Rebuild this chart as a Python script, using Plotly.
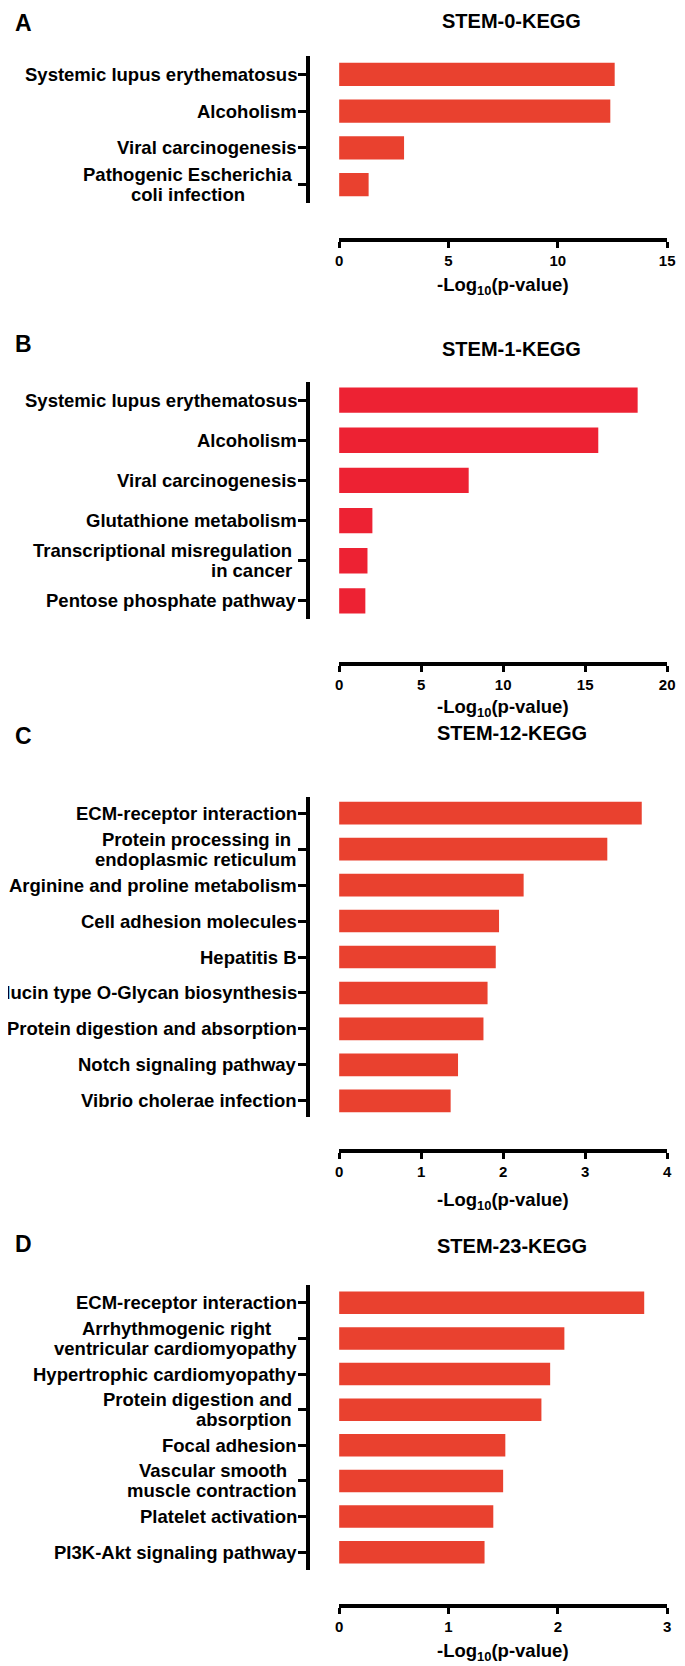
import plotly.graph_objects as go

# ---------------- data ----------------
a_terms = ["Systemic lupus erythematosus", "Alcoholism", "Viral carcinogenesis",
           "Pathogenic Escherichia<br>coli infection"]
a_vals = [12.6, 12.4, 2.97, 1.35]

b_terms = ["Systemic lupus erythematosus", "Alcoholism", "Viral carcinogenesis",
           "Glutathione metabolism", "Transcriptional misregulation<br>in cancer",
           "Pentose phosphate pathway"]
b_vals = [18.2, 15.8, 7.9, 2.03, 1.73, 1.6]

c_terms = ["ECM-receptor interaction", "Protein processing in<br>endoplasmic reticulum",
           "Arginine and proline metabolism", "Cell adhesion molecules", "Hepatitis B",
           "Mucin type O-Glycan biosynthesis", "Protein digestion and absorption",
           "Notch signaling pathway", "Vibrio cholerae infection"]
c_vals = [3.69, 3.27, 2.25, 1.95, 1.91, 1.81, 1.76, 1.45, 1.36]

d_terms = ["ECM-receptor interaction", "Arrhythmogenic right<br>ventricular cardiomyopathy",
           "Hypertrophic cardiomyopathy", "Protein digestion and<br>absorption",
           "Focal adhesion", "Vascular smooth<br>muscle contraction",
           "Platelet activation", "PI3K-Akt signaling pathway"]
d_vals = [2.79, 2.06, 1.93, 1.85, 1.52, 1.50, 1.41, 1.33]

panel_titles = ["STEM-0-KEGG", "STEM-1-KEGG", "STEM-12-KEGG", "STEM-23-KEGG"]
panel_letters = ["A", "B", "C", "D"]
x_max = [15, 20, 4, 3]
x_dtick = [5, 5, 1, 1]
x_title = "-Log<sub>10</sub>(p-value)"

# ---------------- style / layout (page pixels) ----------------
OFF = 8                       # default page margin around the plot div
W, H = 685 - OFF, 1666 - OFF  # figure size so that it fills the window

COL_OR = "#E9412F"
COL_RED = "#ED2233"
colors = [COL_OR, COL_RED, COL_OR, COL_OR]
geom = [
    dict(letter=None, title=21, top=56, bot=203, xline=240, xlab=46, yr=[3.5, -0.5]),
    dict(letter=344, title=349, top=382, bot=619, xline=664, xlab=44, yr=[5.45, -0.45]),
    dict(letter=736, title=733, top=797, bot=1117, xline=1151, xlab=50, yr=[8.45, -0.45]),
    dict(letter=1244, title=1246, top=1285, bot=1570, xline=1606, xlab=46, yr=[7.5, -0.5]),
]
# two-line labels: alignment and extra shift of the block (trailing space in original)
RIGHT_ALIGNED = {"Transcriptional misregulation<br>in cancer", "Protein digestion and<br>absorption"}
BLOCK_SHIFT = {"Transcriptional misregulation<br>in cancer": -5,
               "Protein digestion and<br>absorption": -5,
               "Pathogenic Escherichia<br>coli infection": -5}
LINE_GAP = 20  # px between the two lines

FONT = "Liberation Sans, Arial, Helvetica, sans-serif"
LAB_SIZE = 18.5
X0, X1 = 341, 675     # x-axis span (page px)
YAX = 309             # y-axis line x (page px)
LAB_R = 300.5         # right edge of category labels (page px)
TITLE_X = 517

# approximate advance widths of Arial/Liberation Sans Bold (1/1000 em)
_AW = {" ": 278, "a": 556, "b": 611, "c": 556, "d": 611, "e": 556, "f": 333, "g": 611,
       "h": 611, "i": 278, "j": 278, "k": 556, "l": 278, "m": 889, "n": 611, "o": 611,
       "p": 611, "q": 611, "r": 389, "s": 556, "t": 333, "u": 611, "v": 556, "w": 778,
       "x": 556, "y": 556, "z": 500, "A": 722, "E": 667, "P": 667, "V": 667}


def text_w(s, size):
    return sum(_AW.get(ch, 556) for ch in s) * size / 1000.0


def px(xp):
    return (xp - OFF) / W


def py(yp):
    return 1 - (yp - OFF) / H


terms_all = [a_terms, b_terms, c_terms, d_terms]
vals_all = [a_vals, b_vals, c_vals, d_vals]
lab_font = dict(family=FONT, size=LAB_SIZE, color="black", weight=700)

fig = go.Figure()
annotations = []
layout_axes = {}
for i in range(4):
    n = i + 1
    xa = "x" if n == 1 else f"x{n}"
    ya = "y" if n == 1 else f"y{n}"
    g = geom[i]
    fig.add_trace(go.Bar(
        x=vals_all[i], y=terms_all[i], orientation="h",
        xaxis=xa, yaxis=ya, width=0.63,
        marker=dict(color=colors[i], line=dict(width=0)),
        showlegend=False, hoverinfo="x+y",
    ))
    xkey = "xaxis" if n == 1 else f"xaxis{n}"
    ykey = "yaxis" if n == 1 else f"yaxis{n}"
    layout_axes[xkey] = dict(
        domain=[px(X0), px(X1)], range=[0, x_max[i]], anchor="free",
        position=py(g["xline"]), showline=True, linewidth=4, linecolor="black",
        ticks="outside", ticklen=6, tickwidth=3, tickcolor="black",
        tick0=0, dtick=x_dtick[i], showgrid=False, zeroline=False,
        tickfont=dict(family=FONT, size=15, color="black", weight=700),
    )
    layout_axes[ykey] = dict(
        domain=[py(g["bot"]), py(g["top"])], range=g["yr"], type="category",
        anchor="free", position=px(YAX), showline=True, linewidth=4,
        linecolor="black", ticks="outside", ticklen=8, tickwidth=3,
        tickcolor="black", showticklabels=False, showgrid=False, zeroline=False,
        categoryorder="array", categoryarray=terms_all[i],
    )
    for t in terms_all[i]:
        lines = t.split("<br>")
        if len(lines) == 1:
            annotations.append(dict(
                xref="paper", yref=ya, x=px(LAB_R), y=t, text=t,
                xanchor="right", yanchor="middle", showarrow=False, font=lab_font,
            ))
            continue
        widths = [text_w(s, LAB_SIZE) for s in lines]
        wmax = max(widths)
        for j, (s, w) in enumerate(zip(lines, widths)):
            xs = BLOCK_SHIFT.get(t, 0)
            if t not in RIGHT_ALIGNED:
                xs -= (wmax - w) / 2
            annotations.append(dict(
                xref="paper", yref=ya, x=px(LAB_R), y=t, text=s,
                xanchor="right", yanchor="middle", showarrow=False, font=lab_font,
                xshift=xs, yshift=LINE_GAP / 2 if j == 0 else -LINE_GAP / 2,
            ))
    annotations.append(dict(
        xref="paper", yref="paper", x=px((X0 + X1) / 2), y=py(g["xline"] + g["xlab"]),
        text=x_title, xanchor="center", yanchor="middle", showarrow=False,
        font=dict(family=FONT, size=18.5, color="black", weight=700),
    ))
    annotations.append(dict(
        xref="paper", yref="paper", x=px(TITLE_X), y=py(g["title"]),
        text=panel_titles[i], xanchor="center", yanchor="middle", showarrow=False,
        font=dict(family=FONT, size=20, color="black", weight=700),
    ))
    letter = dict(
        xref="paper", yref="paper", x=px(9), text=panel_letters[i],
        xanchor="left", showarrow=False,
        font=dict(family=FONT, size=23, color="black", weight=700),
    )
    if g["letter"] is None:
        letter.update(y=1, yanchor="top")
    else:
        letter.update(y=py(g["letter"]), yanchor="middle")
    annotations.append(letter)

fig.update_layout(
    width=W, height=H,
    margin=dict(l=0, r=0, t=0, b=0),
    paper_bgcolor="white", plot_bgcolor="white",
    annotations=annotations,
    **layout_axes,
)

fig.write_html("out.html")
